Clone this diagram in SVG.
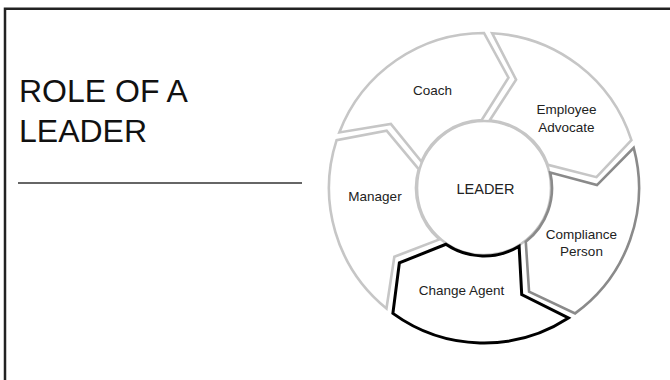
<svg xmlns="http://www.w3.org/2000/svg" width="670" height="380" viewBox="0 0 670 380">
  <style>
    .frame { stroke: #222; stroke-width: 2.5; fill: none; }
    .rule { stroke: #333; stroke-width: 1.3; }
    .title { font-family: "Liberation Sans", Arial, sans-serif; font-size: 32px; fill: #111; }
    .seg { fill: #fff; stroke-width: 2.6; stroke-linejoin: miter; }
    .light { stroke: #c6c6c6; }
    .mid { stroke: #8a8a8a; }
    .dark { stroke: #000; stroke-width: 3; }
    .hub { fill: #fff; stroke: #c6c6c6; stroke-width: 2.6; }
    .label { font-family: "Liberation Sans", Arial, sans-serif; font-size: 13.5px; fill: #222; text-anchor: middle; }
    .hub-label { font-size: 14.5px; }
  </style>

  <!-- page frame: top and left edges -->
  <path class="frame" d="M5 380 V8.7 H670"/>

  <!-- title block -->
  <g id="title">
    <text class="title" x="19" y="102">ROLE OF A</text>
    <text class="title" x="19" y="142">LEADER</text>
    <line class="rule" x1="18" y1="183" x2="302" y2="183"/>
  </g>

  <!-- centre hub -->
  <g id="leader">
    <circle class="hub" cx="484" cy="188" r="67"/>
    <text class="label hub-label" x="485.5" y="194">LEADER</text>
  </g>

  <!-- ring of five arrow segments, flowing clockwise -->
  <g id="coach">
    <path class="seg light" d="M339.3 132.45 A155 155 0 0 1 484 33 L508.46 77.68 L481.75 120.04 A68 68 0 0 0 421.36 161.54 L390.87 124 Z"/>
    <text class="label" x="432.5" y="95">Coach</text>
  </g>

  <g id="employee-advocate">
    <path class="seg light" d="M492.11 33.21 A155 155 0 0 1 631.41 140.1 L596.48 177.17 L547.94 164.85 A68 68 0 0 0 489.81 120.25 L516.09 79.65 Z"/>
    <text class="label" x="566.5" y="114">Employee</text>
    <text class="label" x="566.5" y="131.5">Advocate</text>
  </g>

  <g id="compliance-person">
    <path class="seg mid" d="M633.72 147.88 A155 155 0 0 1 575.11 313.4 L529.06 291.63 L525.77 241.66 A68 68 0 0 0 550.23 172.59 L596.96 185.04 Z"/>
    <text class="label" x="581.5" y="238.5">Compliance</text>
    <text class="label" x="581.5" y="256">Person</text>
  </g>

  <g id="change-agent">
    <path class="seg dark" d="M568.42 317.99 A155 155 0 0 1 392.89 313.4 L399.37 262.88 L445.87 244.31 A68 68 0 0 0 519.12 246.23 L521.72 294.52 Z"/>
    <text class="label" x="461.5" y="295">Change Agent</text>
  </g>

  <g id="manager">
    <path class="seg light" d="M386.46 308.46 A155 155 0 0 1 336.59 140.1 L386.64 130.65 L418.67 169.14 A68 68 0 0 0 439.48 239.4 L394.35 256.79 Z"/>
    <text class="label" x="375" y="200.5">Manager</text>
  </g>

  <!-- no connectors: the segments themselves carry the flow -->
  <g id="connectors"/>
</svg>
